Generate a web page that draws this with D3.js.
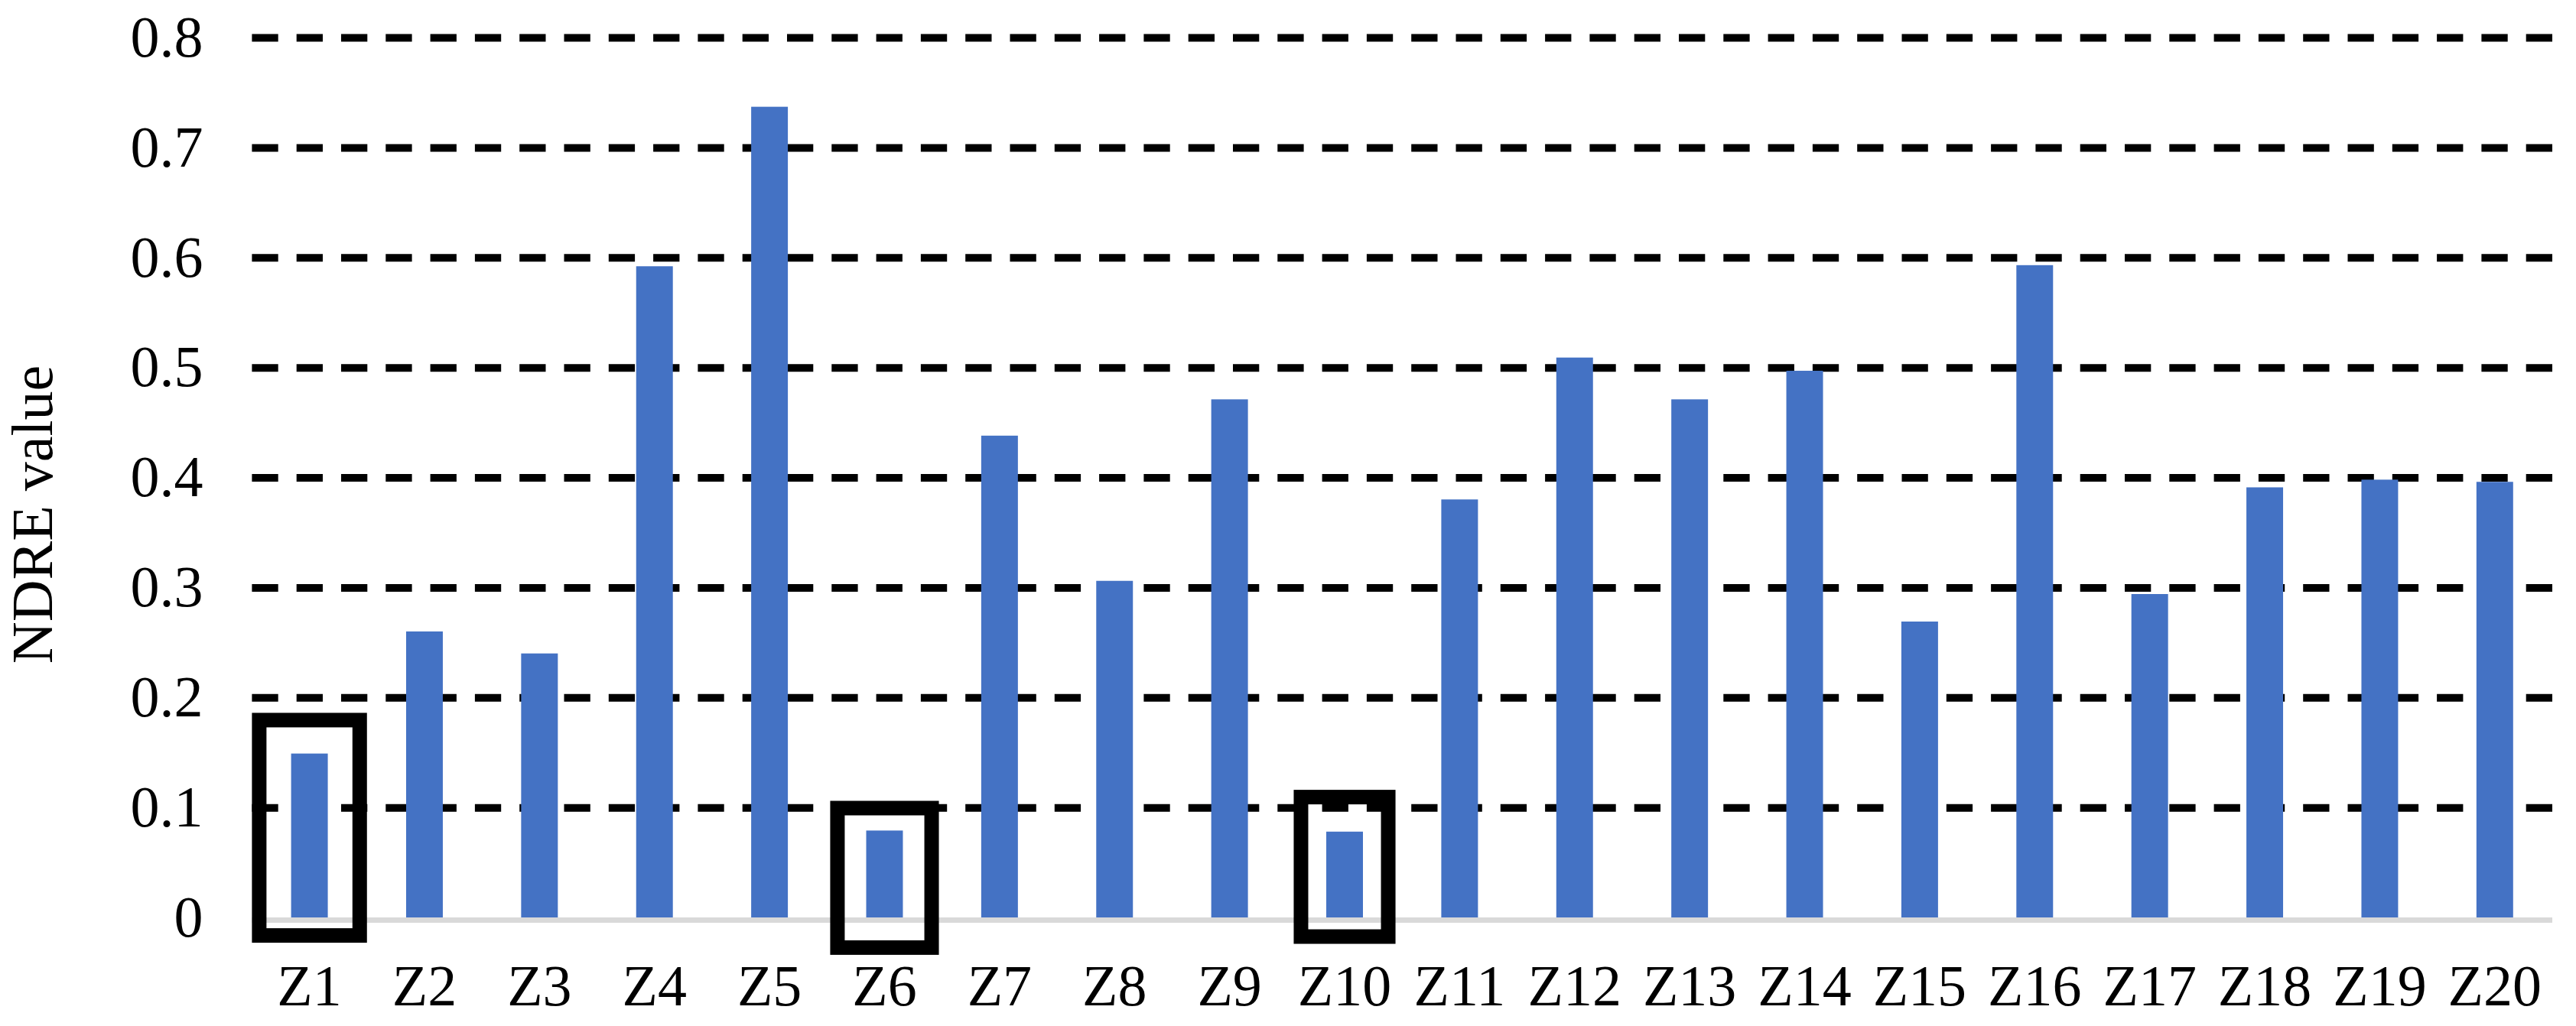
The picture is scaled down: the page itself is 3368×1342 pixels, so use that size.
<!DOCTYPE html>
<html>
<head>
<meta charset="utf-8">
<script src="https://cdn.jsdelivr.net/npm/d3@7"></script>
<style>
  body { margin: 0; background: #fff; }
  svg { display: block; }
  text { font-family: "Liberation Serif", "Times New Roman", serif; fill: #000; }
</style>
</head>
<body>
<svg></svg>
<script>
let width = 3368;
let height = 1342;

// data
let zones = ['Z1','Z2','Z3','Z4','Z5','Z6','Z7','Z8','Z9','Z10',
             'Z11','Z12','Z13','Z14','Z15','Z16','Z17','Z18','Z19','Z20'];
let ndre = [0.149, 0.26, 0.24, 0.592, 0.737, 0.079, 0.438, 0.306, 0.471, 0.078,
            0.38, 0.509, 0.471, 0.497, 0.269, 0.593, 0.294, 0.391, 0.398, 0.396];
let yTicks = [0, 0.1, 0.2, 0.3, 0.4, 0.5, 0.6, 0.7, 0.8];
let yTitle = 'NDRE value';

// highlighted zones (box extents in value units, width as share of the band)
let boxZones = ['Z1', 'Z6', 'Z10'];
let boxTop = [0.186, 0.106, 0.116];
let boxBottom = [-0.023, -0.034, -0.024];
let boxSpan = [1.0, 0.945, 0.885];

let plotLeft = 329.4, plotRight = 3337, plotTop = 49, plotBottom = 1200;
let fontSize = 76;

let svg = d3.select('svg')
            .attr('width', width)
            .attr('height', height);

let x = d3.scaleBand()
          .domain(zones)
          .range([plotLeft, plotRight])
          .paddingInner(0.681)
          .paddingOuter(0.3405);

let y = d3.scaleLinear()
          .domain([0, 0.8])
          .range([plotBottom, plotTop]);

// dashed gridlines + y tick labels
let yAxis = svg.append('g')
   .attr('transform', `translate(${plotLeft},0)`)
   .call(d3.axisLeft(y)
           .tickValues(yTicks)
           .tickSizeInner(-(plotRight - plotLeft))
           .tickSizeOuter(0)
           .tickPadding(64)
           .tickFormat(d => d === 0 ? '0' : d.toFixed(1)));

yAxis.select('.domain').remove();
yAxis.selectAll('.tick line')
     .attr('stroke', '#000')
     .attr('stroke-width', 10)
     .attr('stroke-dasharray', '34.3 24')
     .attr('opacity', d => d === 0 ? 0 : 1);
yAxis.selectAll('.tick text')
     .attr('font-size', fontSize)
     .attr('dy', '0.32em');

// category axis line
svg.append('line')
   .attr('x1', plotLeft)
   .attr('x2', plotRight)
   .attr('y1', y(0) + 3.5)
   .attr('y2', y(0) + 3.5)
   .attr('stroke', '#d9d9d9')
   .attr('stroke-width', 7);

// bars
svg.append('g')
   .selectAll('rect')
   .data(zones)
   .enter()
   .append('rect')
   .attr('x', d => x(d))
   .attr('width', x.bandwidth())
   .attr('y', (d, i) => y(ndre[i]))
   .attr('height', (d, i) => y(0) - y(ndre[i]))
   .attr('fill', '#4472c4');

// x labels
let xAxis = svg.append('g')
   .attr('transform', `translate(0,${plotBottom})`)
   .call(d3.axisBottom(x).tickSize(0));
xAxis.select('.domain').remove();
xAxis.selectAll('.tick text')
     .attr('font-size', fontSize)
     .attr('y', 115)
     .attr('dy', 0);

// highlight boxes
let sw = 19;
svg.append('g')
   .selectAll('rect')
   .data(boxZones)
   .enter()
   .append('rect')
   .attr('x', (d, i) => {
     let c = x(d) + x.bandwidth() / 2;
     return c - boxSpan[i] * x.step() / 2 + sw / 2;
   })
   .attr('width', (d, i) => boxSpan[i] * x.step() - sw)
   .attr('y', (d, i) => y(boxTop[i]) + sw / 2)
   .attr('height', (d, i) => y(boxBottom[i]) - y(boxTop[i]) - sw)
   .attr('fill', 'none')
   .attr('stroke', '#000')
   .attr('stroke-width', sw);

// y title
svg.append('text')
   .attr('transform', 'translate(68,673) rotate(-90)')
   .attr('text-anchor', 'middle')
   .attr('font-size', fontSize)
   .text(yTitle);
</script>
</body>
</html>
